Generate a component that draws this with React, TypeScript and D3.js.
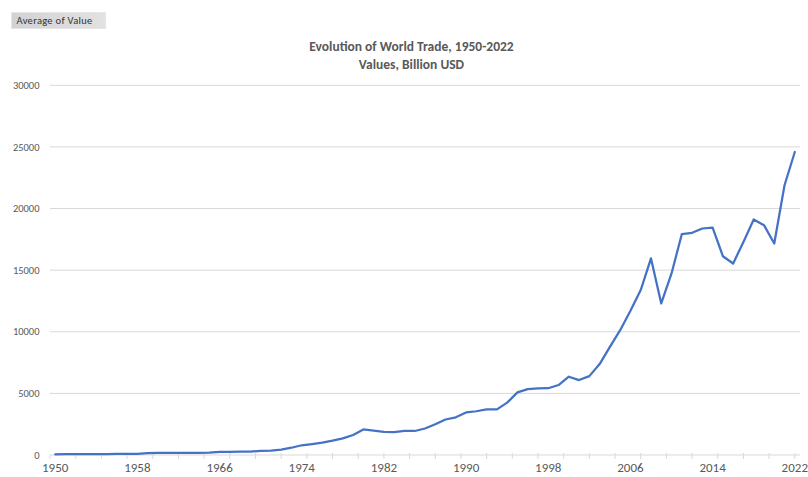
import React from "react";
import * as d3 from "d3";

const years: number[] = d3.range(1950, 2023);
const values: number[] = [
  60, 70, 70, 70, 75, 80, 85, 90, 95, 160,
  165, 170, 170, 175, 180, 185, 250, 260, 265, 275,
  330, 360, 440, 590, 790, 890, 1000, 1160, 1350, 1620,
  2070, 1980, 1880, 1860, 1950, 1950, 2150, 2500, 2880, 3060,
  3450, 3550, 3700, 3700, 4250, 5080, 5350, 5400, 5420, 5680,
  6350, 6080, 6400, 7380, 8780, 10130, 11700, 13380, 15950, 12300,
  14730, 17920, 18030, 18380, 18460, 16130, 15540, 17290, 19110, 18650,
  17160, 21890, 24590,
];
const yTicks: number[] = [0, 5000, 10000, 15000, 20000, 25000, 30000];
const xLabels: number[] = [1950, 1958, 1966, 1974, 1982, 1990, 1998, 2006, 2014, 2022];
const titleLines: string[] = ["Evolution of World Trade, 1950-2022", "Values, Billion USD"];
const fieldButton = "Average of Value";

export default function App() {
  const W = 808, H = 477;
  const plotLeft = 50, plotRight = 800;
  const x = d3.scaleLinear().domain([1950, 2022]).range([55.2, 794.8]);
  const y = d3.scaleLinear().domain([0, 30000]).range([455, 85.3]);
  const line = d3.line<number>().x((_, i) => x(years[i])).y((d) => y(d));
  const tickYears = d3.range(0, 29).map((k) => 2022 - 2.5 * k);
  const font = "Calibri, Carlito, 'Liberation Sans', Arial, sans-serif";
  return (
    <div style={{ position: "absolute", left: 0, top: 0 }}>
      <svg width={W} height={H} style={{ display: "block", background: "#fff" }} fontFamily={font}>
        <defs>
          <linearGradient id="btn" x1="0" y1="0" x2="1" y2="0">
            <stop offset="0" stopColor="#d2d2d2" />
            <stop offset="1" stopColor="#e2e2e2" />
          </linearGradient>
        </defs>
        <rect x={11.5} y={12.5} width={94} height={16} fill="url(#btn)" stroke="#e6e6e6" strokeWidth={1} />
        <text x={16.5} y={24} fontSize={10.5} letterSpacing={0.3} fill="#333">{fieldButton}</text>
        {titleLines.map((t, i) => (
          <text key={i} x={411.5} y={51 + i * 17.5} textAnchor="middle" fontSize={13.5} fontWeight="bold" fill="#595959">{t}</text>
        ))}
        {yTicks.map((v) => (
          <g key={v}>
            {v > 0 && (
              <line x1={plotLeft} x2={plotRight} y1={y(v)} y2={y(v)} stroke="#d9d9d9" strokeWidth={1} />
            )}
            <text x={39.5} y={y(v)} dy="0.35em" textAnchor="end" fontSize={10.5} fill="#595959">{v}</text>
          </g>
        ))}
        <line x1={plotLeft} x2={plotRight} y1={y(0)} y2={y(0)} stroke="#d9d9d9" strokeWidth={1} />
        <line x1={plotLeft} x2={plotLeft} y1={y(0)} y2={y(0) + 4} stroke="#d9d9d9" strokeWidth={1} />
        {tickYears.map((t) => (
          <line key={t} x1={x(t)} x2={x(t)} y1={y(0) - 2} y2={y(0) + 4} stroke="#d9d9d9" strokeWidth={1} />
        ))}
        {xLabels.map((yr) => (
          <text key={yr} x={x(yr)} y={472} textAnchor="middle" fontSize={13} fill="#595959">{yr}</text>
        ))}
        <path d={line(values) || ""} fill="none" stroke="#4472c4" strokeWidth={2.25} strokeLinejoin="round" strokeLinecap="round" />
      </svg>
    </div>
  );
}
